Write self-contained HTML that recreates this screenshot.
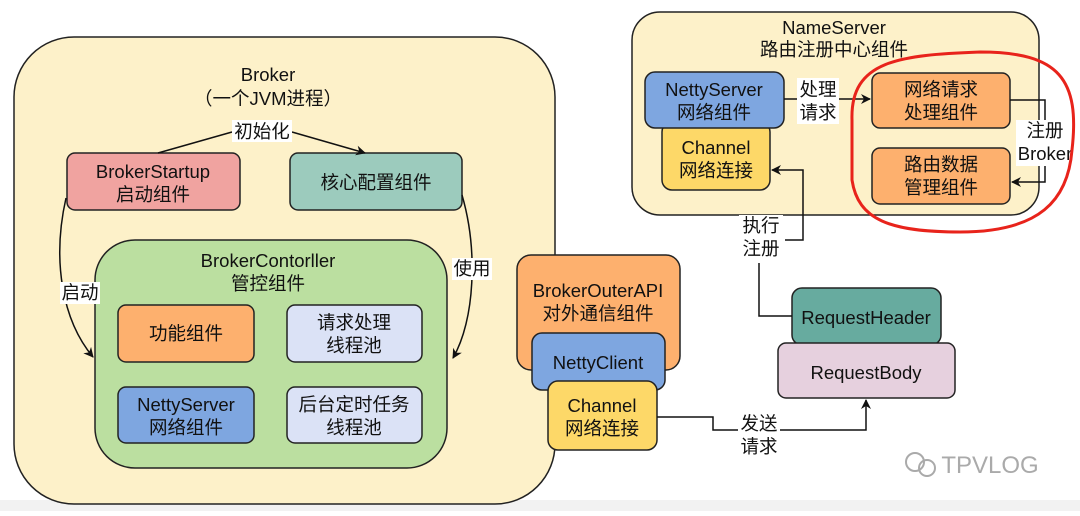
<!DOCTYPE html>
<html><head><meta charset="utf-8"><style>
html,body{margin:0;padding:0;background:#fff;}
svg text{font-family:"Liberation Sans","Noto Sans CJK SC",sans-serif;font-size:18.5px;fill:#111;text-anchor:middle;}
</style></head><body>
<svg width="1080" height="511" viewBox="0 0 1080 511" xmlns="http://www.w3.org/2000/svg">
<defs><marker id="a" markerWidth="10" markerHeight="10" refX="9" refY="5" orient="auto" markerUnits="userSpaceOnUse"><path d="M0,0 L10,5 L0,10 L3,5 z" fill="#111"/></marker></defs>
<rect x="0" y="0" width="1080" height="511" fill="#fff"/>
<rect x="0" y="500" width="1080" height="11" fill="#f2f2f2"/>
<!-- Broker -->
<rect x="14" y="37" width="541" height="467" rx="60" fill="#fdf1c9" stroke="#222" stroke-width="1.5"/>
<text x="268" y="81">Broker</text>
<text x="268" y="105">（一个JVM进程）</text>
<rect x="67" y="153" width="173" height="57" rx="8" fill="#f0a3a0" stroke="#222" stroke-width="1.5"/>
<text x="153" y="178">BrokerStartup</text><text x="153" y="201">启动组件</text>
<rect x="290" y="153" width="172" height="57" rx="8" fill="#9ccbbd" stroke="#222" stroke-width="1.5"/>
<text x="376" y="189">核心配置组件</text>
<path d="M158,153 L232,132" fill="none" stroke="#111" stroke-width="1.5"/>
<path d="M292,132 L365,153" fill="none" stroke="#111" stroke-width="1.5" marker-end="url(#a)"/>
<rect x="232" y="120" width="60" height="22" fill="#fff"/>
<text x="262" y="138">初始化</text>
<rect x="95" y="240" width="352" height="228" rx="40" fill="#bbdfa0" stroke="#222" stroke-width="1.5"/>
<text x="268" y="267">BrokerContorller</text><text x="268" y="290">管控组件</text>
<rect x="118" y="305" width="136" height="57" rx="8" fill="#fdb06e" stroke="#222" stroke-width="1.5"/>
<text x="186" y="340">功能组件</text>
<rect x="287" y="305" width="135" height="57" rx="8" fill="#dbe2f6" stroke="#222" stroke-width="1.5"/>
<text x="354" y="329">请求处理</text><text x="354" y="352">线程池</text>
<rect x="118" y="387" width="136" height="56" rx="8" fill="#7ea6e0" stroke="#222" stroke-width="1.5"/>
<text x="186" y="411">NettyServer</text><text x="186" y="434">网络组件</text>
<rect x="287" y="387" width="135" height="56" rx="8" fill="#dbe2f6" stroke="#222" stroke-width="1.5"/>
<text x="354" y="411">后台定时任务</text><text x="354" y="434">线程池</text>
<path d="M66,198 C52,260 62,320 93,357" fill="none" stroke="#111" stroke-width="1.5" marker-end="url(#a)"/>
<rect x="60" y="282" width="40" height="22" fill="#fff"/><text x="80" y="299">启动</text>
<path d="M462,195 C478,250 475,320 453,358" fill="none" stroke="#111" stroke-width="1.5" marker-end="url(#a)"/>
<rect x="452" y="258" width="40" height="22" fill="#fff"/><text x="472" y="275">使用</text>
<!-- Outer API -->
<rect x="517" y="255" width="163" height="115" rx="14" fill="#fdb06e" stroke="#222" stroke-width="1.5"/>
<text x="598" y="297">BrokerOuterAPI</text><text x="598" y="320">对外通信组件</text>
<rect x="532" y="333" width="133" height="57" rx="10" fill="#7ea6e0" stroke="#222" stroke-width="1.5"/>
<text x="598" y="369">NettyClient</text>
<rect x="548" y="381" width="109" height="69" rx="10" fill="#fdd868" stroke="#222" stroke-width="1.5"/>
<text x="602" y="412">Channel</text><text x="602" y="435">网络连接</text>
<!-- NameServer -->
<rect x="632" y="12" width="407" height="203" rx="28" fill="#fdf1c9" stroke="#222" stroke-width="1.5"/>
<text x="834" y="34">NameServer</text><text x="834" y="56">路由注册中心组件</text>
<rect x="662" y="122" width="108" height="68" rx="10" fill="#fdd868" stroke="#222" stroke-width="1.5"/>
<text x="716" y="154">Channel</text><text x="716" y="177">网络连接</text>
<rect x="645" y="72" width="139" height="56" rx="10" fill="#7ea6e0" stroke="#222" stroke-width="1.5"/>
<text x="714" y="96">NettyServer</text><text x="714" y="119">网络组件</text>
<rect x="872" y="73" width="138" height="55" rx="8" fill="#fdb06e" stroke="#222" stroke-width="1.5"/>
<text x="941" y="96">网络请求</text><text x="941" y="119">处理组件</text>
<rect x="872" y="148" width="138" height="56" rx="8" fill="#fdb06e" stroke="#222" stroke-width="1.5"/>
<text x="941" y="171">路由数据</text><text x="941" y="194">管理组件</text>
<path d="M784,99 L870,99" fill="none" stroke="#111" stroke-width="1.5" marker-end="url(#a)"/>
<rect x="797" y="78" width="42" height="46" fill="#fff"/><text x="818" y="96">处理</text><text x="818" y="119">请求</text>
<path d="M1010,100 L1045,100 L1045,182 L1012,182" fill="none" stroke="#111" stroke-width="1.5" marker-end="url(#a)"/>
<rect x="1016" y="120" width="58" height="46" fill="#fff"/><text x="1045" y="137">注册</text><text x="1045" y="160">Broker</text>
<path d="M852,120 C850,60 900,55 980,52 C1060,52 1080,80 1072,150 C1068,200 1040,232 960,232 C890,232 858,220 852,180 Z" fill="none" stroke="#e8231b" stroke-width="3"/>
<!-- Requests -->
<rect x="792" y="288" width="149" height="57" rx="10" fill="#67ab9f" stroke="#222" stroke-width="1.5"/>
<text x="866" y="324">RequestHeader</text>
<rect x="778" y="343" width="177" height="55" rx="8" fill="#e6d0de" stroke="#222" stroke-width="1.5"/>
<text x="866" y="379">RequestBody</text>
<path d="M792,316 L759,316 L759,262" fill="none" stroke="#111" stroke-width="1.5"/>
<path d="M785,240 L803,240 L803,170 L772,170" fill="none" stroke="#111" stroke-width="1.5" marker-end="url(#a)"/>
<rect x="739" y="215" width="44" height="48" fill="#fff"/><text x="761" y="232">执行</text><text x="761" y="255">注册</text>
<path d="M657,417 L713,417 L713,430 L866,430 L866,400" fill="none" stroke="#111" stroke-width="1.5" marker-end="url(#a)"/>
<rect x="738" y="413" width="42" height="46" fill="#fff"/><text x="759" y="430">发送</text><text x="759" y="453">请求</text>
<text x="990" y="473" style="font-size:24px;fill:#aaa;">TPVLOG</text>
<circle cx="915" cy="462" r="9" fill="none" stroke="#aaa" stroke-width="2"/>
<circle cx="927" cy="468" r="8" fill="none" stroke="#aaa" stroke-width="2"/>
</svg>
</body></html>
